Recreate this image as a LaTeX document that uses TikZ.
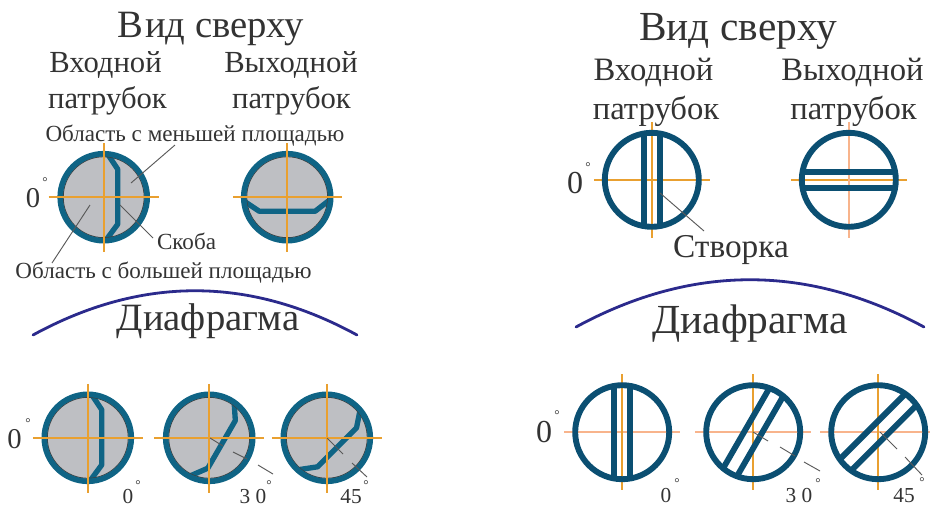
\documentclass[tikz,border=0pt]{standalone}
\usepackage{fontspec}
\setmainfont{Liberation Serif}
\definecolor{ringL}{HTML}{0F6485}
\definecolor{ringR}{HTML}{0B4F72}
\definecolor{discfill}{HTML}{BEBFC3}
\definecolor{orangeln}{HTML}{E9A030}
\definecolor{salmonln}{HTML}{F8B48C}
\definecolor{arcblue}{HTML}{2B2A8C}
\definecolor{txtgray}{HTML}{333333}
\tikzset{
  x=0.75pt,y=-0.75pt,
  lbl/.style={anchor=base,inner sep=0pt,text=txtgray},
  deg/.style={anchor=center,inner sep=0pt,text=txtgray,font=\fontsize{10}{10}\selectfont},
  axis/.style={orangeln,line width=1.25pt},
  axisthick/.style={salmonln,line width=1.8pt},
  leader/.style={draw=black!65,line width=0.7pt},
  arcline/.style={arcblue,line width=2.1pt,line cap=round},
}
\newcommand{\disc}[3]{% x,y,angle
  \begin{scope}[shift={(#1,#2)}]
    \fill[discfill] (0,0) circle[radius=44];
    \begin{scope}\clip (0,0) circle[radius=44];
      \draw[ringL,line width=4pt,line join=round,rotate=-#3] (2,-46) -- (14,-28) -- (14,27) -- (0,46);
    \end{scope}
    \draw[black!75,line width=0.7pt] (0,0) circle[radius=40.5];
    \draw[ringL,line width=4.2pt] (0,0) circle[radius=43.5];
    \draw[axis] (-55,0) -- (55,0);
    \draw[axis] (0,-54) -- (0,55);
  \end{scope}}
\newcommand{\vane}[4]{% x,y,angle,axis style
  \begin{scope}[shift={(#1,#2)}]
    #4
    \begin{scope}[rotate=-#3]
      \clip (0,0) circle[radius=47];
      \draw[ringR,line width=4.4pt] (-8,-50) -- (-8,50) (8,-50) -- (8,50);
    \end{scope}
    \draw[ringR,line width=4.4pt] (0,0) circle[radius=47];
  \end{scope}}
\begin{document}
\begin{tikzpicture}
\useasboundingbox (0,0) rectangle (930,507);
% headings
\node[lbl,font=\fontsize{29}{29}\selectfont] (hL) at (211,37) {В\kern1pt ид сверху};
\node[lbl,font=\fontsize{31}{31}\selectfont] (hR) at (738,40) {Вид сверху};
\node[lbl,font=\fontsize{23}{23}\selectfont] (inL1) at (105.5,72) {Входной};
\node[lbl,font=\fontsize{23}{23}\selectfont] (inL2) at (107.5,108) {патрубок};
\node[lbl,font=\fontsize{23}{23}\selectfont] (outL1) at (291,72) {Выходной};
\node[lbl,font=\fontsize{23}{23}\selectfont] (outL2) at (291.5,108) {патрубок};
\node[lbl,font=\fontsize{24.5}{24.5}\selectfont] (inR1) at (653.5,80) {Входной};
\node[lbl,font=\fontsize{24.5}{24.5}\selectfont] (inR2) at (656,119) {патрубок};
\node[lbl,font=\fontsize{24.5}{24.5}\selectfont] (outR1) at (852.5,80) {Выходной};
\node[lbl,font=\fontsize{24.5}{24.5}\selectfont] (outR2) at (853.5,119) {патрубок};
% small labels
\node[lbl,font=\fontsize{17.3}{17.3}\selectfont] (small) at (195,141) {Область с меньшей площадью};
\node[lbl,font=\fontsize{17.3}{17.3}\selectfont] (big) at (163.5,278) {Область с большей площадью};
\node[lbl,font=\fontsize{17.3}{17.3}\selectfont] (skoba) at (186.5,249) {Скоба};
\node[lbl,font=\fontsize{25}{25}\selectfont] (stv) at (731,257) {Створка};
% diaphragm arcs
\draw[arcline] (33,335) .. controls (141,276) and (249,276) .. (357,335);
\draw[arcline] (576,327) .. controls (692,264) and (808,264) .. (924,327);
\node[lbl,font=\fontsize{29}{29}\selectfont] (dL) at (208,330) {Диафрагма};
\node[lbl,font=\fontsize{31}{31}\selectfont] (dR) at (750,333) {Диафрагма};
% left top
\disc{103.7}{197.2}{0}
\begin{scope}[shift={(287.2,197.2)}]
  \fill[discfill] (0,0) circle[radius=44];
  \begin{scope}\clip (0,0) circle[radius=44];
    \draw[ringL,line width=4pt,line join=round] (-46,2) -- (-28,14) -- (28,14) -- (46,0);
  \end{scope}
  \draw[black!75,line width=0.7pt] (0,0) circle[radius=40.5];
  \draw[ringL,line width=4.2pt] (0,0) circle[radius=43.5];
  \draw[axis] (-54,0) -- (55,0);
  \draw[axis] (0,-54) -- (0,55);
\end{scope}
% left bottom
\disc{87.8}{437.8}{0}
\disc{209.2}{437.8}{30}
\disc{326.8}{437.8}{45}
% right top
\vane{651.8}{179.8}{0}{\draw[axis] (-58,0) -- (58,0); \draw[axis] (0,-58) -- (0,58);}
\vane{848.8}{179.8}{90}{\draw[axis] (-58,0) -- (58,0); \draw[axisthick] (0,-58) -- (0,58);}
% right bottom
\vane{622.2}{432.2}{0}{\draw[axisthick] (-58,0) -- (58,0); \draw[axis] (0,-58) -- (0,58);}
\vane{753.2}{432.2}{30}{\draw[axisthick] (-58,0) -- (58,0); \draw[axis] (0,-58) -- (0,58);}
\vane{878.2}{432.2}{45}{\draw[axisthick] (-58,0) -- (52,0); \draw[axis] (0,-58) -- (0,58);}
% leaders
\coordinate (a1) at (131,183);
\coordinate (a2) at (175,145);
\coordinate (b1) at (90,205);
\coordinate (b2) at (52,263);
\coordinate (c1) at (120,205);
\coordinate (c2) at (153,238);
\coordinate (d1) at (660,193);
\coordinate (d2) at (704,231);
\draw[leader] (a1) -- (a2);
\draw[leader] (b1) -- (b2);
\draw[leader] (c1) -- (c2);
\draw[leader] (d1) -- (d2);
% angle marks
\draw[leader] (210,438) -- (223,446) (233,452) -- (247,459) (258,465) -- (273,474);
\draw[leader] (327,438) -- (343,454) (352,463) -- (367,477);
\draw[leader] (753,432) -- (768,441) (780,447) -- (795,456) (804,462) -- (820,471);
\draw[leader] (880,432) -- (897,449) (905,457) -- (922,475);
% zero and angle labels
\node[lbl,font=\fontsize{21.5}{21.5}\selectfont] (z1) at (33,207) {0};
\node[deg] (z1d) at (45,182) {°};
\node[lbl,font=\fontsize{24}{24}\selectfont] (z2) at (575,193) {0};
\node[deg] (z2d) at (588,167) {°};
\node[lbl,font=\fontsize{21.5}{21.5}\selectfont] (z3) at (14.5,448) {0};
\node[deg] (z3d) at (28,423) {°};
\node[lbl,font=\fontsize{24}{24}\selectfont] (z4) at (544,442) {0};
\node[deg] (z4d) at (557,415) {°};
\node[lbl,font=\fontsize{16}{16}\selectfont] (e1) at (128,503) {0};
\node[deg] (e1d) at (138,485) {°};
\node[lbl,font=\fontsize{16}{16}\selectfont] (e2) at (253,503) {3 0};
\node[deg] (e2d) at (269,485) {°};
\node[lbl,font=\fontsize{16}{16}\selectfont] (e3) at (351,503) {45};
\node[deg] (e3d) at (366,485) {°};
\node[lbl,font=\fontsize{16}{16}\selectfont] (f1) at (666,502) {0};
\node[deg] (f1d) at (677,483) {°};
\node[lbl,font=\fontsize{16}{16}\selectfont] (f2) at (799,502) {3 0};
\node[deg] (f2d) at (818,483) {°};
\node[lbl,font=\fontsize{16}{16}\selectfont] (f3) at (904,502) {45};
\node[deg] (f3d) at (922,482) {°};
\end{tikzpicture}
\end{document}
